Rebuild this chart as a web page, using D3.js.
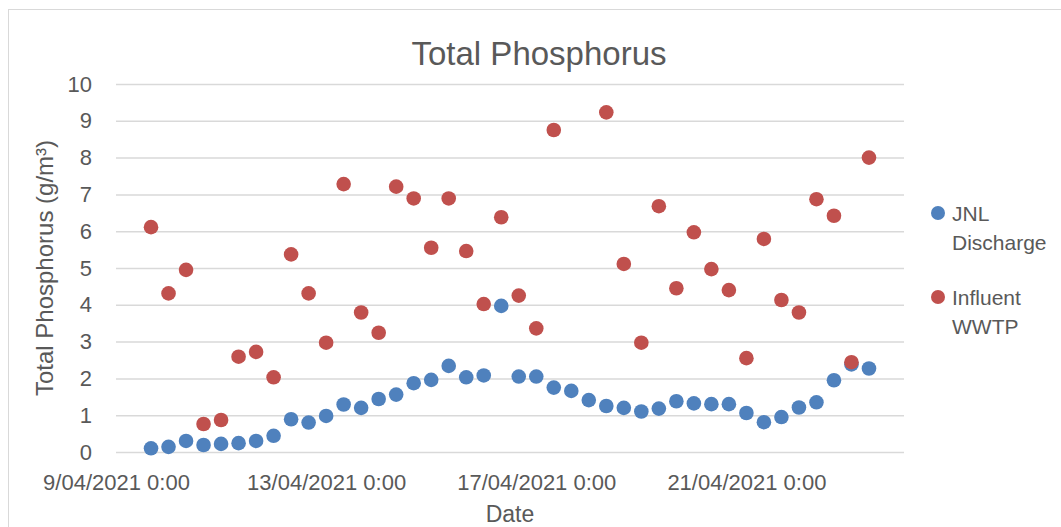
<!DOCTYPE html>
<html lang="en">
  <head>
    <meta charset="utf-8">
    <title>Total Phosphorus</title>
    <style>
      body { margin:0; background:#fff; }
      svg text { font-family:"Liberation Sans", Arial, sans-serif; fill:#595959; }
    </style>
  </head>
  <body>
    <svg></svg>

    <script src="https://cdn.jsdelivr.net/npm/d3@7"></script>
    <script>
    // data
    var dates = [
      "2021-04-09 16:00",
      "2021-04-10 00:00","2021-04-10 08:00","2021-04-10 16:00",
      "2021-04-11 00:00","2021-04-11 08:00","2021-04-11 16:00",
      "2021-04-12 00:00","2021-04-12 08:00","2021-04-12 16:00",
      "2021-04-13 00:00","2021-04-13 08:00","2021-04-13 16:00",
      "2021-04-14 00:00","2021-04-14 08:00","2021-04-14 16:00",
      "2021-04-15 00:00","2021-04-15 08:00","2021-04-15 16:00",
      "2021-04-16 00:00","2021-04-16 08:00","2021-04-16 16:00",
      "2021-04-17 00:00","2021-04-17 08:00","2021-04-17 16:00",
      "2021-04-18 00:00","2021-04-18 08:00","2021-04-18 16:00",
      "2021-04-19 00:00","2021-04-19 08:00","2021-04-19 16:00",
      "2021-04-20 00:00","2021-04-20 08:00","2021-04-20 16:00",
      "2021-04-21 00:00","2021-04-21 08:00","2021-04-21 16:00",
      "2021-04-22 00:00","2021-04-22 08:00","2021-04-22 16:00",
      "2021-04-23 00:00","2021-04-23 08:00"
    ];
    var jnlDischarge = [0.10,0.14,0.30,0.19,0.22,0.24,0.30,0.44,0.89,0.80,0.98,1.29,1.20,1.44,
      1.56,1.87,1.96,2.34,2.03,2.08,3.97,2.05,2.05,1.75,1.66,1.41,1.25,1.20,
      1.10,1.18,1.38,1.32,1.30,1.30,1.06,0.81,0.95,1.21,1.35,1.95,2.38,2.27];
    var influentWWTP = [6.11,4.31,4.95,0.76,0.87,2.59,2.72,2.03,5.37,4.31,2.97,7.28,3.79,3.24,
      7.21,6.89,5.55,6.89,5.46,4.02,6.38,4.25,3.36,8.75,null,null,9.23,5.11,
      2.97,6.68,4.45,5.97,4.97,4.40,2.55,5.79,4.13,3.79,6.87,6.42,2.44,8.00];
    var seriesNames = [["JNL","Discharge"],["Influent","WWTP"]];
    var seriesColors = ["#4f81bd","#c0504d"];
    var xDomain = ["2021-04-09 00:00","2021-04-24 00:00"];
    var yTicks = [0,1,2,3,4,5,6,7,8,9,10];

    var width = 1061, height = 527;
    var svg = d3.select("svg").attr("width", width).attr("height", height);

    var parse = d3.timeParse("%Y-%m-%d %H:%M");
    var fmt = d3.timeFormat("%-d/%m/%Y %-H:%M");

    // plot area (window.top is reserved, so prefixed names)
    var pL = 116, pR = 904, pT = 84, pB = 452;

    var x = d3.scaleTime()
        .domain(xDomain.map(parse))
        .range([pL, pR]);
    var y = d3.scaleLinear()
        .domain([0, 10])
        .range([pB, pT]);

    // chart border
    svg.append("rect")
      .attr("x", 8.5).attr("y", 9.5)
      .attr("width", 1080).attr("height", 540)
      .attr("fill", "none")
      .attr("stroke", "#d9d9d9");

    // title
    svg.append("text")
      .attr("x", 539).attr("y", 65)
      .attr("text-anchor", "middle")
      .style("font-size", "33px")
      .text("Total Phosphorus");

    // y axis + grid
    var yAxis = svg.append("g")
      .attr("transform", "translate(" + pL + ",0)")
      .call(d3.axisLeft(y).tickValues(yTicks).tickSize(-(pR-pL)).tickPadding(24));
    yAxis.select(".domain").remove();
    yAxis.selectAll("line").attr("stroke", "#d9d9d9").attr("stroke-width", 1.5);
    yAxis.selectAll("text").style("font-size", "22px").attr("fill", "#595959");

    // x axis
    var xAxis = svg.append("g")
      .attr("transform", "translate(0," + pB + ")")
      .call(d3.axisBottom(x).ticks(d3.timeDay.every(4)).tickFormat(fmt).tickSize(0).tickPadding(22));
    xAxis.select(".domain").remove();
    xAxis.selectAll("text").style("font-size", "22px").attr("fill", "#595959");

    // axis titles
    svg.append("text")
      .attr("x", (pL+pR)/2).attr("y", 522)
      .attr("text-anchor", "middle")
      .style("font-size", "23px")
      .text("Date");
    svg.append("text")
      .attr("transform", "translate(53," + (pT+pB)/2 + ") rotate(-90)")
      .attr("text-anchor", "middle")
      .style("font-size", "24px")
      .text("Total Phosphorus (g/m³)");

    // points
    var all = [jnlDischarge, influentWWTP];
    all.forEach(function(vals, s){
      svg.append("g").selectAll("circle")
        .data(vals.map(function(v,i){ return {t: parse(dates[i]), v: v}; })
                  .filter(function(d){ return d.v != null; }))
        .enter().append("circle")
        .attr("cx", function(d){ return x(d.t); })
        .attr("cy", function(d){ return y(d.v); })
        .attr("r", 7.3)
        .attr("fill", seriesColors[s]);
    });

    // legend
    var legend = svg.append("g");
    seriesNames.forEach(function(n, s){
      var ly = 213 + s*84;
      legend.append("circle")
        .attr("cx", 938).attr("cy", ly).attr("r", 7)
        .attr("fill", seriesColors[s]);
      var t = legend.append("text")
        .attr("x", 952).attr("y", ly + 8)
        .style("font-size", "21px");
      t.append("tspan").attr("x", 952).text(n[0]);
      t.append("tspan").attr("x", 952).attr("dy", 29).text(n[1]);
    });
    </script>
  </body>
</html>
